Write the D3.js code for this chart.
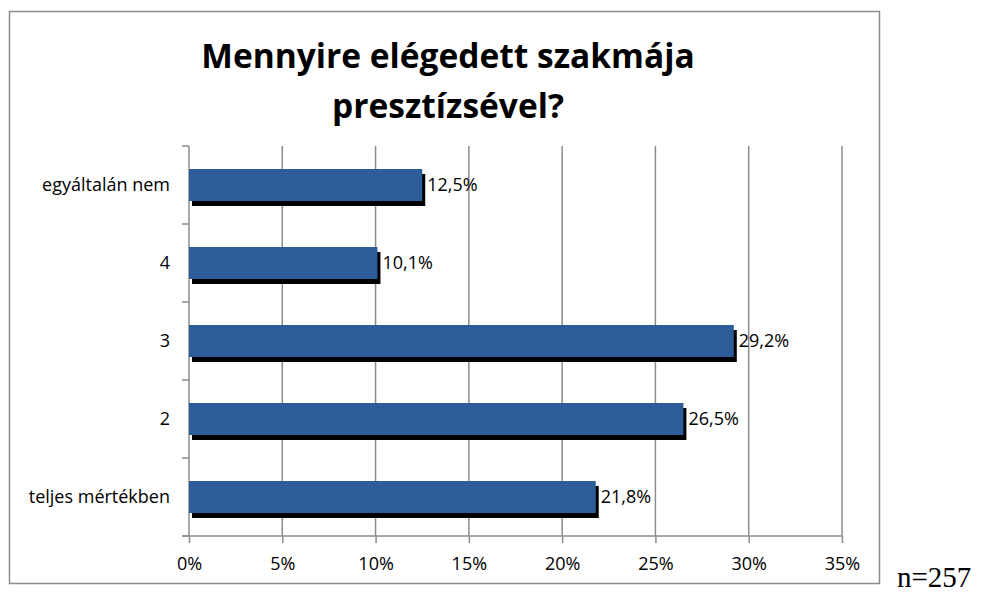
<!DOCTYPE html>
<html>
<head>
<meta charset="utf-8">
<script src="https://cdn.jsdelivr.net/npm/d3@7"></script>
<style>
  body { margin: 0; background: #fff; }
</style>
</head>
<body>
<svg id="chart" width="981" height="594" font-family="'Open Sans', sans-serif"></svg>
<script>
// data, top to bottom as in the chart
const categories = ['egyáltalán nem', '4', '3', '2', 'teljes mértékben']
const values = [12.5, 10.1, 29.2, 26.5, 21.8]
const xTicks = [0, 5, 10, 15, 20, 25, 30, 35]
const titleLines = ['Mennyire elégedett szakmája', 'presztízsével?']
const note = 'n=257'

const svg = d3.select('#chart')
const plot = { left: 189, right: 842, top: 146, bottom: 536 }
const gray = '#8c8c8c'
const barColor = '#2d5d98'

// outer frame
svg.append('rect')
    .attr('x', 9.5).attr('y', 11.5)
    .attr('width', 870).attr('height', 572)
    .attr('fill', 'none')
    .attr('stroke', gray)
    .attr('stroke-width', 1.5)

// title
svg.append('g').selectAll('text')
    .data(titleLines)
    .enter()
    .append('text')
    .attr('x', 448)
    .attr('y', (d, i) => 68 + i * 50)
    .attr('text-anchor', 'middle')
    .attr('font-size', 33.5)
    .attr('font-weight', 'bold')
    .text(d => d)

const x = d3.scaleLinear().domain([0, 35]).range([plot.left, plot.right])
const y = d3.scaleBand().domain(categories).range([plot.top, plot.bottom]).paddingInner(0.59).paddingOuter(0.295)

// vertical gridlines
svg.append('g').selectAll('line')
    .data(xTicks.slice(1))
    .enter()
    .append('line')
    .attr('x1', d => x(d)).attr('x2', d => x(d))
    .attr('y1', plot.top).attr('y2', plot.bottom)
    .attr('stroke', gray)
    .attr('stroke-width', 1.5)

// x axis
const xAxis = svg.append('g')
    .attr('transform', `translate(0,${plot.bottom})`)
    .call(d3.axisBottom(x).tickValues(xTicks).tickFormat(d => d + '%').tickSize(7).tickSizeOuter(0).tickPadding(14))
xAxis.select('.domain').remove()
xAxis.selectAll('line').attr('stroke', gray).attr('stroke-width', 1.5)
xAxis.selectAll('text').attr('font-size', 18).attr('fill', '#000').attr('font-family', "'Open Sans', sans-serif")
xAxis.append('line')
    .attr('x1', plot.left - 7).attr('x2', plot.right)
    .attr('stroke', gray).attr('stroke-width', 1.5)

// y axis: ticks between categories, labels at centres
const boundaries = d3.range(categories.length + 1).map(i => plot.top + i * (plot.bottom - plot.top) / categories.length)
const yAxis = svg.append('g')
yAxis.append('line')
    .attr('x1', plot.left).attr('x2', plot.left)
    .attr('y1', plot.top).attr('y2', plot.bottom)
    .attr('stroke', gray).attr('stroke-width', 1.5)
yAxis.selectAll('.tick')
    .data(boundaries)
    .enter()
    .append('line')
    .attr('x1', plot.left - 7).attr('x2', plot.left)
    .attr('y1', d => d).attr('y2', d => d)
    .attr('stroke', gray).attr('stroke-width', 1.5)
yAxis.selectAll('text')
    .data(categories)
    .enter()
    .append('text')
    .attr('x', 170)
    .attr('y', d => y(d) + y.bandwidth() / 2)
    .attr('dy', '0.35em')
    .attr('text-anchor', 'end')
    .attr('font-size', 18)
    .text(d => d)

// bars with drop shadow
const rows = categories.map((c, i) => ({ cat: c, val: values[i] }))
const bars = svg.append('g').selectAll('g')
    .data(rows)
    .enter()
    .append('g')

bars.append('rect')
    .attr('x', x(0) + 3)
    .attr('y', d => y(d.cat) + 5)
    .attr('width', d => x(d.val) - x(0))
    .attr('height', y.bandwidth())
    .attr('fill', '#000')

bars.append('rect')
    .attr('x', x(0))
    .attr('y', d => y(d.cat))
    .attr('width', d => x(d.val) - x(0))
    .attr('height', y.bandwidth())
    .attr('fill', barColor)

bars.append('text')
    .attr('x', d => x(d.val) + 5)
    .attr('y', d => y(d.cat) + y.bandwidth() / 2)
    .attr('dy', '0.35em')
    .attr('font-size', 18)
    .text(d => d.val.toFixed(1).replace('.', ',') + '%')

// sample size note
svg.append('text')
    .attr('x', 897)
    .attr('y', 587)
    .attr('font-family', "'Liberation Serif', 'Times New Roman', serif")
    .attr('font-size', 29)
    .text(note)
</script>
</body>
</html>
